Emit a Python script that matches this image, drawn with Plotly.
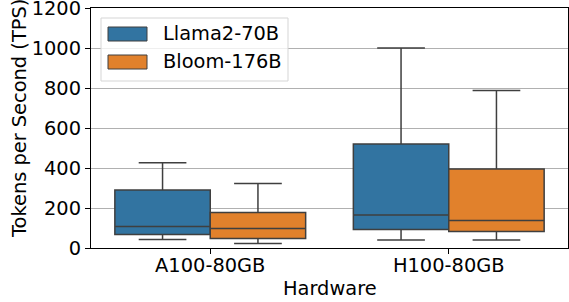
import plotly.graph_objects as go

hardware = ["A100-80GB", "H100-80GB"]
series = ["Llama2-70B", "Bloom-176B"]
colors = ["#3274a1", "#e1812c"]

# per-series stats for each hardware: lower whisker, q1, median, q3, upper whisker
llama_low = [43, 40]
llama_q1 = [67, 93]
llama_med = [107, 165]
llama_q3 = [290, 520]
llama_high = [426, 1000]

bloom_low = [22, 40]
bloom_q1 = [48, 83]
bloom_med = [97, 137]
bloom_q3 = [177, 395]
bloom_high = [322, 788]

yticks = [0, 200, 400, 600, 800, 1000, 1200]

stats = [
    (llama_low, llama_q1, llama_med, llama_q3, llama_high),
    (bloom_low, bloom_q1, bloom_med, bloom_q3, bloom_high),
]

fig = go.Figure()
for name, col, (lo, q1, med, q3, hi) in zip(series, colors, stats):
    fig.add_trace(go.Box(
        name=name,
        x=hardware,
        lowerfence=lo, q1=q1, median=med, q3=q3, upperfence=hi,
        fillcolor=col,
        line=dict(color="#3f3f3f", width=1.5),
        whiskerwidth=0.5,
        boxpoints=False,
        showlegend=False,
    ))

W, H = 569, 302
L, R, T, B = 91, 1, 8, 54
pw, ph = W - L - R, H - T - B
FS = 19.4

def px_x(p):
    return (p - L) / pw

def px_y(p):
    return (H - B - p) / ph

shapes = [
    dict(type="rect", xref="paper", yref="paper",
         x0=px_x(101), x1=px_x(288), y0=px_y(81), y1=px_y(18),
         line=dict(color="#d5d5d5", width=1), fillcolor="rgba(255,255,255,0.8)", layer="above"),
]
annotations = []
for i, (name, col) in enumerate(zip(series, colors)):
    top = 27 + 28 * i
    shapes.append(dict(type="rect", xref="paper", yref="paper",
                       x0=px_x(108), x1=px_x(147), y0=px_y(top + 14), y1=px_y(top),
                       line=dict(color="#3f3f3f", width=1), fillcolor=col, layer="above"))
    annotations.append(dict(xref="paper", yref="paper", x=px_x(161), y=px_y(top + 7),
                            text=name, showarrow=False, xanchor="left", yanchor="middle",
                            font=dict(size=FS, color="black")))

# axis titles
annotations.append(dict(xref="paper", yref="paper", x=0.5, y=px_y(288),
                        text="Hardware", showarrow=False, xanchor="center", yanchor="middle",
                        font=dict(size=FS, color="black")))
annotations.append(dict(xref="paper", yref="paper", x=px_x(19), y=px_y(119), textangle=-90,
                        text="Tokens per Second (TPS)", showarrow=False,
                        xanchor="center", yanchor="middle",
                        font=dict(size=FS, color="black")))

fig.update_layout(
    width=W, height=H,
    margin=dict(l=L, r=R, t=T, b=B, pad=0),
    boxmode="group", boxgap=0.2, boxgroupgap=0,
    plot_bgcolor="white", paper_bgcolor="white",
    font=dict(family="DejaVu Sans", size=FS, color="black"),
    shapes=shapes, annotations=annotations,
    xaxis=dict(
        range=[-0.5, 1.5], showgrid=False, automargin=False,
        showline=True, linecolor="black", linewidth=1.2, mirror=True,
        ticks="outside", ticklen=5, tickcolor="black",
        tickfont=dict(size=FS), ticklabeloverflow="allow", ticklabelstandoff=-5,
    ),
    yaxis=dict(
        range=[0, 1200], tickvals=yticks, automargin=False,
        showgrid=True, gridcolor="#b0b0b0", gridwidth=1,
        showline=True, linecolor="black", linewidth=1.2, mirror=True,
        ticks="outside", ticklen=5, tickcolor="black",
        tickfont=dict(size=FS), zeroline=False, ticklabeloverflow="allow",
    ),
)

fig.write_html("out.html", config={"displayModeBar": False},
               post_script="document.body.style.margin='0';document.body.style.overflow='hidden';")
